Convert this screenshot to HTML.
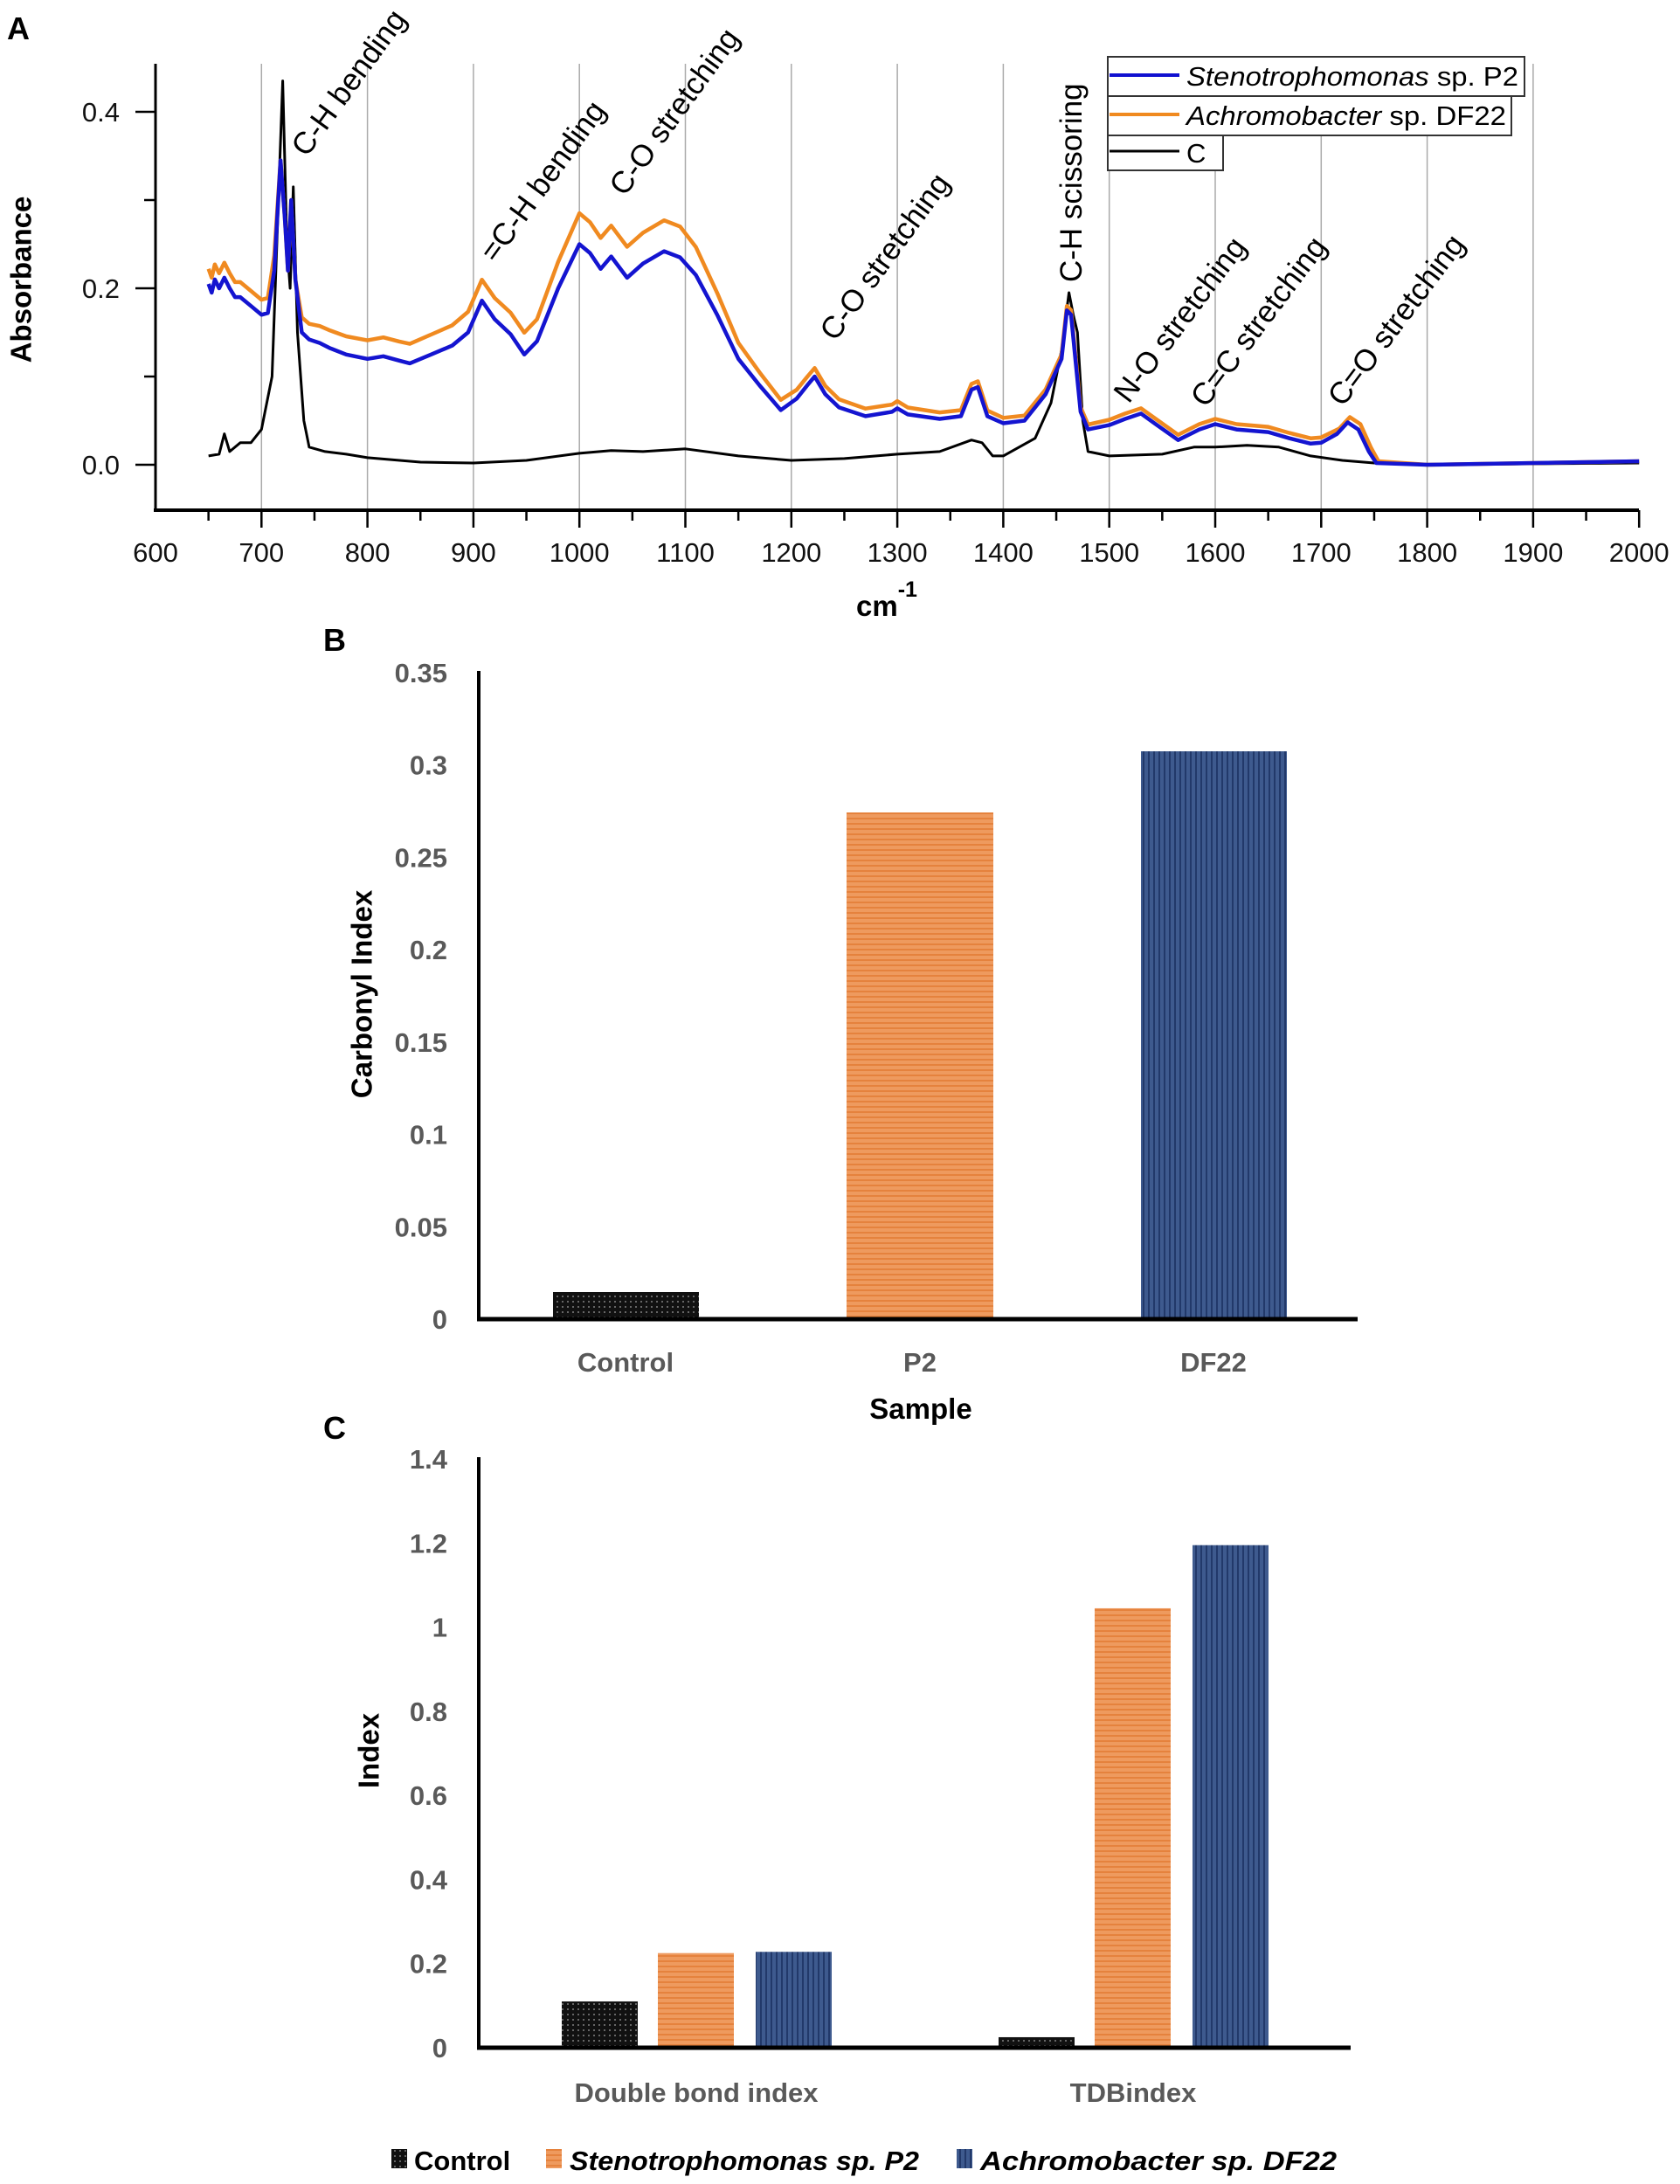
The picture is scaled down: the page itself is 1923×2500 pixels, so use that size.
<!DOCTYPE html>
<html><head><meta charset="utf-8">
<style>
html,body{margin:0;padding:0;background:#fff;}
svg{display:block;}
.ann{font-family:"Liberation Sans",sans-serif;font-size:35px;fill:#000;}
.tk{font-family:"Liberation Sans",sans-serif;font-size:31px;fill:#111;}
.bt{font-family:"Liberation Sans",sans-serif;font-size:31px;font-weight:bold;fill:#595959;}
.lab{font-family:"Liberation Sans",sans-serif;font-size:33px;font-weight:bold;fill:#000;}
.leg{font-family:"Liberation Sans",sans-serif;font-size:31px;fill:#000;}
</style></head>
<body>
<svg id="s" width="1923" height="2500" viewBox="0 0 1923 2500" xmlns="http://www.w3.org/2000/svg">
<defs>
<pattern id="pO" width="6" height="6" patternUnits="userSpaceOnUse"><rect width="6" height="6" fill="#EE9A5E"/><rect width="6" height="2" fill="#E5823D"/></pattern>
<pattern id="pB" width="6" height="6" patternUnits="userSpaceOnUse"><rect width="6" height="6" fill="#3E5A8E"/><rect width="2" height="6" fill="#22396A"/></pattern>
<pattern id="pK" width="6" height="6" patternUnits="userSpaceOnUse"><rect width="6" height="6" fill="#111"/><rect x="1" y="1" width="2" height="2" fill="#666"/></pattern>
</defs>
<!-- Panel A -->
<text x="8" y="45" style="font-family:'Liberation Sans',sans-serif;font-size:36px;font-weight:bold">A</text>
<g id="grid" stroke="#aaa" stroke-width="1.5"></g>
<g id="spec" fill="none" stroke-linejoin="round"></g>
<line x1="178" y1="73" x2="178" y2="584" stroke="#000" stroke-width="3"/>
<line x1="176" y1="584" x2="1876" y2="584" stroke="#000" stroke-width="4"/>
<g stroke="#000" stroke-width="2.5">
<line x1="155" y1="532" x2="178" y2="532"/><line x1="155" y1="330" x2="178" y2="330"/><line x1="155" y1="128" x2="178" y2="128"/>
<line x1="165" y1="431" x2="178" y2="431"/><line x1="165" y1="229" x2="178" y2="229"/>
</g>
<g id="xt" stroke="#000" stroke-width="2.5"></g>
<text class="tk" x="137" y="543" text-anchor="end">0.0</text>
<text class="tk" x="137" y="341" text-anchor="end">0.2</text>
<text class="tk" x="137" y="139" text-anchor="end">0.4</text>
<g id="xl"></g>
<text x="27" y="320" transform="rotate(-90 27 320)" text-anchor="middle" dominant-baseline="middle" style="font-family:'Liberation Sans',sans-serif;font-size:33px;font-weight:bold">Absorbance</text>
<text x="1015" y="705" text-anchor="middle" style="font-family:'Liberation Sans',sans-serif;font-size:33px;font-weight:bold">cm<tspan dy="-22" font-size="25">-1</tspan></text>
<!-- legend -->
<g>
<rect x="1268" y="65" width="477" height="45" fill="#fff" stroke="#333" stroke-width="2"/>
<rect x="1268" y="110" width="462" height="45" fill="#fff" stroke="#333" stroke-width="2"/>
<rect x="1268" y="155" width="132" height="40" fill="#fff" stroke="#333" stroke-width="2"/>
<line x1="1270" y1="86" x2="1350" y2="86" stroke="#1010d0" stroke-width="4"/>
<line x1="1270" y1="131" x2="1350" y2="131" stroke="#f08a20" stroke-width="4"/>
<line x1="1270" y1="173" x2="1350" y2="173" stroke="#000" stroke-width="3"/>
<text class="leg" x="1358" y="98" textLength="380" lengthAdjust="spacingAndGlyphs"><tspan font-style="italic">Stenotrophomonas</tspan> sp. P2</text>
<text class="leg" x="1358" y="143" textLength="366" lengthAdjust="spacingAndGlyphs"><tspan font-style="italic">Achromobacter</tspan> sp. DF22</text>
<text class="leg" x="1358" y="186">C</text>
</g>
<!-- annotations -->
<text class="ann" transform="translate(351,181) rotate(-54)">C-H bending</text>
<text class="ann" transform="translate(567,302) rotate(-54)">=C-H bending</text>
<text class="ann" transform="translate(715,226) rotate(-54)">C-O stretching</text>
<text class="ann" transform="translate(956,392) rotate(-54)">C-O stretching</text>
<text class="ann" transform="translate(1238,323) rotate(-90)">C-H scissoring</text>
<text class="ann" transform="translate(1292,463) rotate(-53)">N-O stretching</text>
<text class="ann" transform="translate(1380,468) rotate(-53)">C=C stretching</text>
<text class="ann" transform="translate(1537,467) rotate(-53)">C=O stretching</text>

<!-- Panel B -->
<text x="370" y="745" style="font-family:'Liberation Sans',sans-serif;font-size:36px;font-weight:bold">B</text>
<rect x="633" y="1479" width="167" height="31" fill="url(#pK)"/>
<rect x="969" y="930" width="168" height="580" fill="url(#pO)"/>
<rect x="1306" y="860" width="167" height="650" fill="url(#pB)"/>
<line x1="548" y1="768" x2="548" y2="1512" stroke="#000" stroke-width="4"/>
<line x1="546" y1="1510" x2="1554" y2="1510" stroke="#000" stroke-width="5"/>
<g id="byl"></g>
<text class="bt" x="716" y="1570" text-anchor="middle">Control</text>
<text class="bt" x="1053" y="1570" text-anchor="middle">P2</text>
<text class="bt" x="1389" y="1570" text-anchor="middle">DF22</text>
<text class="lab" x="1054" y="1624" text-anchor="middle">Sample</text>
<text class="lab" x="417" y="1138" transform="rotate(-90 417 1138)" text-anchor="middle" dominant-baseline="middle">Carbonyl Index</text>

<!-- Panel C -->
<text x="370" y="1647" style="font-family:'Liberation Sans',sans-serif;font-size:36px;font-weight:bold">C</text>
<g id="cbars"></g>
<line x1="548" y1="1668" x2="548" y2="2346" stroke="#000" stroke-width="4"/>
<line x1="546" y1="2344" x2="1546" y2="2344" stroke="#000" stroke-width="5"/>
<g id="cyl"></g>
<text class="bt" x="797" y="2406" text-anchor="middle">Double bond index</text>
<text class="bt" x="1297" y="2406" text-anchor="middle">TDBindex</text>
<text class="lab" x="425" y="2004" transform="rotate(-90 425 2004)" text-anchor="middle" dominant-baseline="middle">Index</text>
<g>
<rect x="448" y="2460" width="18" height="22" fill="url(#pK)"/>
<text x="474" y="2484" style="font-family:'Liberation Sans',sans-serif;font-size:31px;font-weight:bold">Control</text>
<rect x="625" y="2460" width="18" height="22" fill="url(#pO)"/>
<text x="652" y="2484" style="font-family:'Liberation Sans',sans-serif;font-size:31px;font-weight:bold;font-style:italic" textLength="400" lengthAdjust="spacingAndGlyphs">Stenotrophomonas sp. P2</text>
<rect x="1095" y="2460" width="18" height="22" fill="url(#pB)"/>
<text x="1122" y="2484" style="font-family:'Liberation Sans',sans-serif;font-size:31px;font-weight:bold;font-style:italic" textLength="408" lengthAdjust="spacingAndGlyphs">Achromobacter sp. DF22</text>
</g>
</svg>
<script>
(function(){
var NS="http://www.w3.org/2000/svg";
function el(p,t,a,txt){var e=document.createElementNS(NS,t);for(var k in a)e.setAttribute(k,a[k]);if(txt!=null)e.textContent=txt;document.getElementById(p).appendChild(e);return e;}
function X(w){return 178+(w-600)*1.213;}
function Y(a){return 532-1010*a;}
for(var w=700;w<=1900;w+=100) el("grid","line",{x1:X(w),y1:73,x2:X(w),y2:584});
for(var w=650;w<=2000;w+=50){var maj=w%100==0;el("xt","line",{x1:X(w),y1:584,x2:X(w),y2:584+(maj?20:12)});}
for(var w=600;w<=2000;w+=100) el("xl","text",{"class":"tk",x:X(w),y:643,"text-anchor":"middle"},String(w));
var blue=[[650,.205],[653,.195],[656,.21],[660,.2],[665,.212],[670,.2],[675,.19],[680,.19],[690,.18],[700,.17],[706,.172],[712,.22],[718,.345],[722,.28],[725,.22],[728,.3],[732,.21],[738,.15],[745,.142],[755,.138],[765,.132],[780,.125],[800,.12],[815,.123],[830,.118],[840,.115],[860,.125],[880,.135],[895,.15],[908,.186],[920,.165],[935,.148],[948,.125],[960,.14],[980,.2],[1000,.25],[1010,.24],[1020,.222],[1030,.236],[1045,.212],[1060,.228],[1080,.242],[1095,.235],[1110,.215],[1130,.17],[1150,.12],[1170,.09],[1190,.062],[1205,.075],[1215,.09],[1222,.1],[1232,.08],[1245,.065],[1270,.055],[1295,.06],[1300,.064],[1310,.057],[1340,.052],[1360,.055],[1370,.085],[1376,.088],[1385,.055],[1400,.047],[1420,.05],[1440,.08],[1455,.12],[1460,.175],[1464,.17],[1468,.12],[1473,.06],[1480,.04],[1500,.045],[1515,.052],[1530,.058],[1545,.045],[1565,.028],[1585,.04],[1600,.046],[1620,.04],[1650,.037],[1670,.03],[1690,.024],[1700,.025],[1715,.035],[1725,.048],[1735,.04],[1745,.015],[1752,.002],[1800,0],[2000,.004]];
var off=[[650,.017],[740,.017],[760,.02],[960,.025],[1000,.035],[1100,.035],[1150,.018],[1200,.01],[1460,.005],[1500,.006],[1740,.006],[1752,.002],[1800,0],[2000,0]];
function oi(w){for(var i=0;i<off.length-1;i++){if(w>=off[i][0]&&w<=off[i+1][0]){var t=(w-off[i][0])/(off[i+1][0]-off[i][0]);return off[i][1]+t*(off[i+1][1]-off[i][1]);}}return 0;}
var orange=blue.map(function(p){var v=p[1]+oi(p[0]);if(p[0]>=716&&p[0]<=732)v=p[1]+0.0;return [p[0]+(p[0]>1700&&p[0]<1760?2:0),v];});
var black=[[650,.01],[660,.012],[665,.035],[670,.015],[680,.025],[690,.025],[700,.04],[710,.1],[716,.3],[720,.435],[724,.25],[727,.2],[730,.315],[734,.15],[740,.05],[745,.02],[760,.015],[780,.012],[800,.008],[850,.003],[900,.002],[950,.005],[1000,.013],[1030,.016],[1060,.015],[1100,.018],[1150,.01],[1200,.005],[1250,.007],[1300,.012],[1340,.015],[1370,.028],[1380,.025],[1390,.01],[1400,.01],[1430,.03],[1445,.07],[1455,.13],[1462,.195],[1466,.17],[1470,.15],[1475,.05],[1480,.015],[1500,.01],[1550,.012],[1580,.02],[1600,.02],[1630,.022],[1660,.02],[1690,.01],[1720,.005],[1750,.002],[1800,0],[2000,.002]];
function d(a){return a.map(function(p,i){return (i?"L":"M")+X(p[0]).toFixed(1)+" "+Y(p[1]).toFixed(1);}).join(" ");}
el("spec","path",{d:d(black),stroke:"#000","stroke-width":3});
el("spec","path",{d:d(orange),stroke:"#f08a20","stroke-width":4.5});
el("spec","path",{d:d(blue),stroke:"#1414d0","stroke-width":4.5});
var bv=["0","0.05","0.1","0.15","0.2","0.25","0.3","0.35"];
for(var i=0;i<8;i++) el("byl","text",{"class":"bt",x:512,y:1510-i*740/7+11,"text-anchor":"end"},bv[i]);
function CY(v){return 2344-v*481.4;}
var cv=["0","0.2","0.4","0.6","0.8","1","1.2","1.4"];
for(var i=0;i<8;i++) el("cyl","text",{"class":"bt",x:512,y:CY(i*0.2)+11,"text-anchor":"end"},cv[i]);
var bars=[[643,.11,"pK"],[753,.225,"pO"],[865,.228,"pB"],[1143,.025,"pK"],[1253,1.045,"pO"],[1365,1.195,"pB"]];
bars.forEach(function(b){el("cbars","rect",{x:b[0],y:CY(b[1]),width:87,height:b[1]*481.4,fill:"url(#"+b[2]+")"});});
})();
</script>
</body></html>
